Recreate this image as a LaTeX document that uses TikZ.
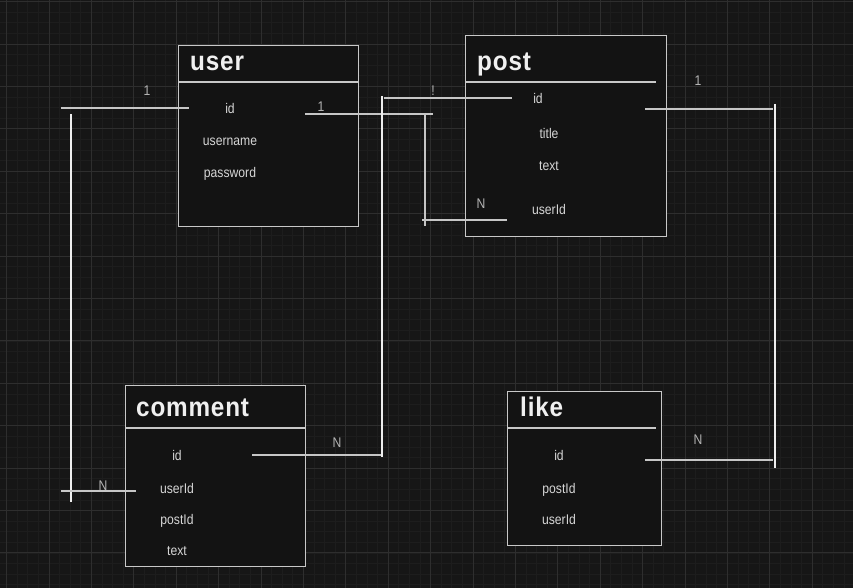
\documentclass[tikz,border=0pt]{standalone}
\usepackage{fontspec}
\setmainfont{Liberation Sans}
\newfontfamily\dfont[FakeStretch=0.87]{Liberation Sans}
\newfontfamily\tfont[FakeStretch=0.9,LetterSpace=3]{Liberation Sans}
\definecolor{bg}{HTML}{161616}
\definecolor{gridminor}{HTML}{1D1D1D}
\definecolor{gridmajor}{HTML}{2E2E2E}
\definecolor{boxfill}{HTML}{131313}
\definecolor{boxline}{HTML}{C8C8C8}
\definecolor{fieldtxt}{HTML}{D6D6D6}
\definecolor{titletxt}{HTML}{F0F0F0}
\definecolor{labeltxt}{HTML}{B4B4B4}
\definecolor{linew}{HTML}{EEEEEE}
\definecolor{lineg}{HTML}{C6C6C6}
\tikzset{
  entity/.style={draw=boxline, fill=boxfill, line width=1.1pt, inner sep=0pt, anchor=north west},
  sep/.style={draw=boxline, line width=1.1pt},
  titletext/.style={text=titletxt, font=\tfont\bfseries\fontsize{27}{30}\selectfont, inner sep=0pt, anchor=base west},
  fieldtext/.style={text=fieldtxt, font=\dfont\fontsize{14}{15}\selectfont, inner sep=0pt, anchor=base},
  cardtext/.style={text=labeltxt, font=\dfont\fontsize{14}{15}\selectfont, inner sep=0pt, anchor=base},
  linkw/.style={draw=linew, line width=1.1pt},
  linkg/.style={draw=lineg, line width=1.1pt}
}
\begin{document}
\begin{tikzpicture}[x=1pt,y=-1pt]
\useasboundingbox (0,0) rectangle (853,588);
\fill[bg] (0,0) rectangle (853,588);
\begin{scope}
\clip (0,0) rectangle (853,588);
\foreach \i in {0,...,80} \draw[gridminor, line width=0.8pt] ({6.6+10.6*\i},0) -- ({6.6+10.6*\i},588);
\foreach \i in {0,...,55} \draw[gridminor, line width=0.8pt] (0,{1.7+10.6*\i}) -- (853,{1.7+10.6*\i});
\foreach \i in {0,...,19} \draw[gridmajor, line width=1pt] ({6.6+42.4*\i},0) -- ({6.6+42.4*\i},588);
\foreach \i in {0,...,13} \draw[gridmajor, line width=1pt] (0,{1.7+42.4*\i}) -- (853,{1.7+42.4*\i});
\end{scope}

% entities
\node[entity, minimum width=180pt, minimum height=181pt] (user) at (178,45) {};
\node[entity, minimum width=201pt, minimum height=201pt] (post) at (465,35) {};
\node[entity, minimum width=180pt, minimum height=181pt] (comment) at (125,385) {};
\node[entity, minimum width=154pt, minimum height=154pt] (like) at (507,391) {};

\draw[sep] (178,82) -- (358,82);
\draw[sep] (465,82) -- (656,82);
\draw[sep] (125,428) -- (305,428);
\draw[sep] (507,428) -- (656,428);

\node[titletext] (usertitle) at (190,71) {user};
\node[titletext] (posttitle) at (477,71) {post};
\node[titletext] (commenttitle) at (136,416) {comment};
\node[titletext] (liketitle) at (520,416) {like};

% fields
\node[fieldtext] (uid) at (230,114) {id};
\node[fieldtext] (uname) at (230,146) {username};
\node[fieldtext] (upass) at (230,178) {password};

\node[fieldtext] (pid) at (538,104) {id};
\node[fieldtext] (ptitle) at (549,139) {title};
\node[fieldtext] (ptext) at (549,171) {text};
\node[fieldtext] (puser) at (549,214) {userId};

\node[fieldtext] (cid) at (177,460) {id};
\node[fieldtext] (cuser) at (177,493) {userId};
\node[fieldtext] (cpost) at (177,524) {postId};
\node[fieldtext] (ctext) at (177,555) {text};

\node[fieldtext] (lid) at (559,460) {id};
\node[fieldtext] (lpost) at (559,493) {postId};
\node[fieldtext] (luser) at (559,524) {userId};

% connector end points
\coordinate (a1) at (61,108);
\coordinate (a2) at (189,108);
\coordinate (a3) at (71,114);
\coordinate (a4) at (71,502);
\coordinate (a5) at (61,491);
\coordinate (a6) at (136,491);

\coordinate (b1) at (305,114);
\coordinate (b2) at (433,114);
\coordinate (b3) at (425,114);
\coordinate (b4) at (425,226);
\coordinate (b5) at (422,220);
\coordinate (b6) at (507,220);

\coordinate (c1) at (382,96);
\coordinate (c2) at (382,457);
\coordinate (c3) at (384,98);
\coordinate (c4) at (512,98);
\coordinate (c5) at (252,455);
\coordinate (c6) at (381,455);

\coordinate (d1) at (645,109);
\coordinate (d2) at (773,109);
\coordinate (d3) at (775,104);
\coordinate (d4) at (775,468);
\coordinate (d5) at (645,460);
\coordinate (d6) at (773,460);

\draw[linkg] (a1) -- (a2);
\draw[linkw] (a3) -- (a4);
\draw[linkg] (a5) -- (a6);

\draw[linkg] (b1) -- (b2);
\draw[linkg] (b3) -- (b4);
\draw[linkg] (b5) -- (b6);

\draw[linkw] (c1) -- (c2);
\draw[linkg] (c3) -- (c4);
\draw[linkg] (c5) -- (c6);

\draw[linkg] (d1) -- (d2);
\draw[linkw] (d3) -- (d4);
\draw[linkg] (d5) -- (d6);

% cardinalities
\node[cardtext] (l1) at (147,96) {1};
\node[cardtext] (l2) at (103,490) {N};
\node[cardtext] (l3) at (321,112) {1};
\node[cardtext] (l4) at (481,208) {N};
\node[cardtext] (l5) at (433,96) {!};
\node[cardtext] (l6) at (337,447) {N};
\node[cardtext] (l7) at (698,86) {1};
\node[cardtext] (l8) at (698,444) {N};
\end{tikzpicture}
\end{document}
